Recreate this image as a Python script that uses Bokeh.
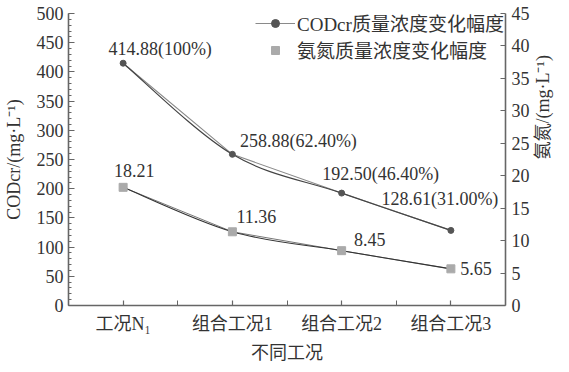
import numpy as np
from bokeh.plotting import figure
from bokeh.models import (Range1d, LinearAxis, FixedTicker, SingleIntervalTicker,
                          Legend, LegendItem)
from bokeh.core.properties import value
from bokeh.embed import file_html
from bokeh.resources import INLINE

# ---------------- data ----------------
categories = ["工况N₁", "组合工况1", "组合工况2", "组合工况3"]
cod_values = [414.88, 258.88, 192.50, 128.61]
cod_percent = ["100%", "62.40%", "46.40%", "31.00%"]
nh_values = [18.21, 11.36, 8.45, 5.65]
left_ticks_interval = 50
right_ticks_interval = 5

# ---------------- styles ----------------
FONT = "Liberation Serif, Noto Sans CJK SC"
NUMFONT = "Liberation Serif"
TXT = "#333333"
AX = "#666666"

xs = list(range(len(categories)))

p = figure(frame_width=437, frame_height=292, output_backend="svg", toolbar_location=None,
           x_range=Range1d(-0.5, len(categories) - 0.5), y_range=Range1d(0, 500),
           min_border_left=65, min_border_right=51, min_border_top=13,
           min_border_bottom=51)
p.outline_line_color = None
p.grid.visible = False
p.background_fill_color = "white"
p.border_fill_color = "white"
p.extra_y_ranges = {"nh": Range1d(0, 45)}

# bottom axis
xa = p.xaxis[0]
xa.ticker = FixedTicker(ticks=xs, minor_ticks=[i + 0.5 for i in xs[:-1]])
xa.major_label_overrides = {i: c for i, c in enumerate(categories)}
xa.axis_label = "不同工况"
xa.major_tick_in = 5
xa.major_tick_out = 0
xa.minor_tick_in = 5
xa.minor_tick_out = 0
xa.major_label_standoff = 8
xa.axis_label_standoff = 6

# left axis
ya = p.yaxis[0]
ya.ticker = SingleIntervalTicker(interval=left_ticks_interval, num_minor_ticks=5)
ya.axis_label = "CODcr/(mg·L⁻¹)"
ya.major_tick_in = 6
ya.major_tick_out = 0
ya.minor_tick_in = 3
ya.minor_tick_out = 0
ya.major_label_standoff = 5
ya.axis_label_standoff = 10

# right axis
ra = LinearAxis(y_range_name="nh",
                ticker=SingleIntervalTicker(interval=right_ticks_interval, num_minor_ticks=0))
ra.axis_label = "氨氮/(mg·L⁻¹)"
ra.major_tick_in = 5
ra.major_tick_out = 0
ra.minor_tick_line_color = None
ra.major_label_standoff = 6
ra.axis_label_standoff = 10
ra.axis_label_orientation = np.pi / 2
p.add_layout(ra, "right")

for ax in (xa, ya, ra):
    ax.axis_line_color = AX
    ax.axis_line_width = 1.6
    ax.major_tick_line_color = AX
    ax.major_tick_line_width = 1.2
    ax.minor_tick_line_width = 1
    ax.major_label_text_font = FONT
    ax.major_label_text_font_size = "18px"
    ax.major_label_text_color = TXT
    ax.axis_label_text_font = FONT
    ax.axis_label_text_font_size = "18px"
    ax.axis_label_text_font_style = "normal"
    ax.axis_label_text_color = TXT
ya.major_label_text_font = NUMFONT
ra.major_label_text_font = NUMFONT
ya.minor_tick_line_color = AX
xa.minor_tick_line_color = AX


def bezier_parts(x, y):
    x = np.asarray(x, float)
    y = np.asarray(y, float)
    xp = np.concatenate([[x[0]], x, [x[-1]]])
    yp = np.concatenate([[y[0]], y, [y[-1]]])
    n = len(x)
    x0 = xp[1:n]; y0 = yp[1:n]
    x1 = xp[2:n + 1]; y1 = yp[2:n + 1]
    cx0 = x0 + (x1 - xp[0:n - 1]) / 6.0
    cy0 = y0 + (y1 - yp[0:n - 1]) / 6.0
    cx1 = x1 - (xp[3:n + 2] - x0) / 6.0
    cy1 = y1 - (yp[3:n + 2] - y0) / 6.0
    return dict(x0=x0, y0=y0, x1=x1, y1=y1, cx0=cx0, cy0=cy0, cx1=cx1, cy1=cy1)


# COD series
cod_line = p.line(xs, cod_values, line_color="#8a8a8a", line_width=1.1)
p.bezier(**bezier_parts(xs, cod_values), line_color="#444444", line_width=1.2)
cod_marker = p.scatter(xs, cod_values, marker="circle", size=6,
                       fill_color="#555555", line_color="#555555")

# ammonia series
p.line(xs, nh_values, line_color="#777777", line_width=1, y_range_name="nh")
p.bezier(**bezier_parts(xs, nh_values), line_color="#333333", line_width=1.1,
         y_range_name="nh")
nh_marker = p.scatter(xs, nh_values, marker="square", size=8,
                      fill_color="#aaaaaa", line_color="#aaaaaa", y_range_name="nh")

# value labels
cod_labels = [f"{v:.2f}({pc})" for v, pc in zip(cod_values, cod_percent)]
cod_dx = [37, 66, 39, -11]
cod_dy = [-14, -13, -19, -31]
p.text(x=xs, y=cod_values, text=cod_labels, x_offset=cod_dx, y_offset=cod_dy,
       text_align="center", text_baseline="middle", text_font=value(NUMFONT),
       text_font_size="18px", text_color=TXT)

nh_labels = [f"{v:.2f}" for v in nh_values]
nh_dx = [11, 24, 28, 25]
nh_dy = [-17, -15, -11, 0]
p.text(x=xs, y=nh_values, text=nh_labels, x_offset=nh_dx, y_offset=nh_dy,
       text_align="center", text_baseline="middle", text_font=value(NUMFONT),
       text_font_size="18px", text_color=TXT, y_range_name="nh")

legend = Legend(items=[
    LegendItem(label="CODcr质量浓度变化幅度", renderers=[cod_line, cod_marker]),
    LegendItem(label="氨氮质量浓度变化幅度", renderers=[nh_marker]),
], location=(187, 242), glyph_width=40, label_standoff=2, padding=0, margin=0,
    spacing=-4, border_line_color=None, background_fill_alpha=0,
    label_text_font=FONT, label_text_font_size="19px", label_text_color=TXT)
p.add_layout(legend)

open("out.html", "w").write(file_html(p, INLINE))
